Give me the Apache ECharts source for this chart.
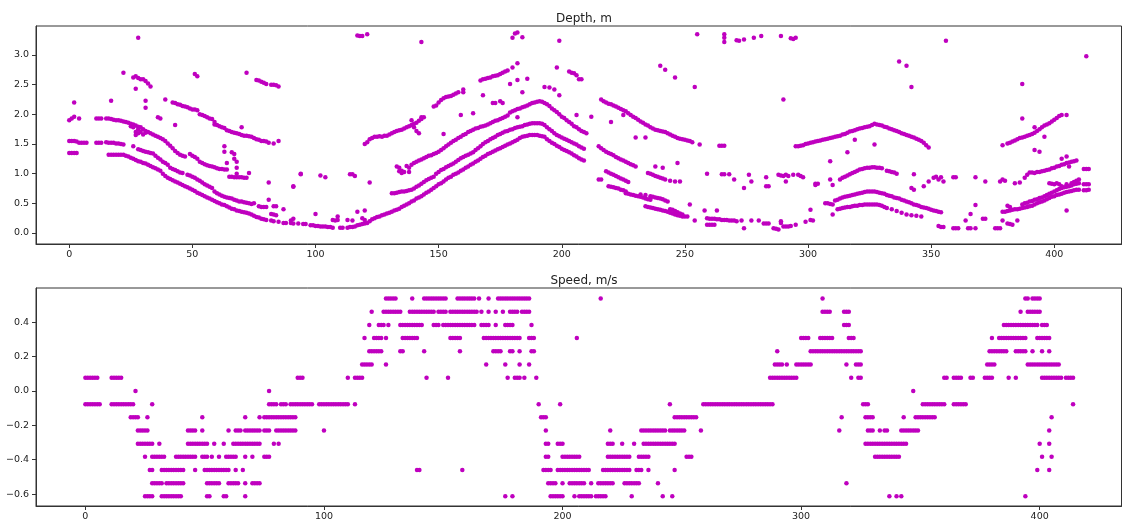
<!DOCTYPE html>
<html><head><meta charset="utf-8">
<script src="https://cdn.jsdelivr.net/npm/echarts@6/dist/echarts.min.js"></script>
<style>html,body{margin:0;padding:0;background:#fff}#c{width:1123px;height:524px}</style>
</head><body><div id="c"></div>
<script>
const depthTitle = 'Depth, m';
const speedTitle = 'Speed, m/s';
const depthXTicks = [0, 50, 100, 150, 200, 250, 300, 350, 400];
const depthYTicks = [0, 0.5, 1.0, 1.5, 2.0, 2.5, 3.0];
const speedXTicks = [0, 100, 200, 300, 400];
const speedYTicks = [-0.6, -0.4, -0.2, 0.0, 0.2, 0.4];

// Depth echoes: [index, depth]
const depthBottom = [
[0,1.35],[1,1.35],[2,1.35],[3,1.35],
[16,1.32],[17,1.32],[18,1.32],[19,1.32],[20,1.32],[21,1.32],[22,1.32],[23,1.30],[24,1.29],[25,1.27],[26,1.25],[27,1.23],[28,1.21],[29,1.20],[30,1.18],[31,1.17],[32,1.15],[33,1.13],[34,1.11],[35,1.09],[36,1.07],[37,1.05],[38,1.00],[39,0.96],[40,0.93],[41,0.91],[42,0.89],[43,0.87],[44,0.85],[45,0.83],[46,0.81],[47,0.79],[48,0.77],[49,0.75],[50,0.73],[51,0.71],[52,0.68],[53,0.66],[54,0.64],[55,0.62],[56,0.60],[57,0.58],[58,0.56],[59,0.54],[60,0.52],[61,0.50],[62,0.48],[63,0.47],[64,0.45],[65,0.43],[66,0.41],[67,0.40],[68,0.38],[69,0.37],[70,0.36],[71,0.35],[72,0.34],[73,0.33],[74,0.31],[75,0.29],[76,0.27],[77,0.26],[78,0.24],[79,0.23],[80,0.22],[82,0.21],[83,0.20],[85,0.19],[87,0.17],[88,0.17],[90,0.17],[91,0.16],[93,0.16],[95,0.15],[96,0.15],[98,0.13],[99,0.13],[100,0.12],[101,0.12],[102,0.11],[103,0.11],[104,0.11],[105,0.10],[106,0.10],[107,0.09],[110,0.09],[111,0.09],[113,0.09],[114,0.10],[115,0.10],[116,0.11],[117,0.13],[118,0.14],[119,0.15],[120,0.16],[121,0.17],
[122,0.20],[123,0.23],[124,0.25],[125,0.27],[126,0.28],[127,0.30],[128,0.31],[129,0.33],[130,0.34],[131,0.36],[132,0.38],[133,0.39],[134,0.41],[135,0.44],[136,0.46],[137,0.48],[138,0.50],[139,0.53],[140,0.55],[141,0.58],[142,0.60],[143,0.62],[144,0.65],[145,0.68],[146,0.70],[147,0.73],[148,0.76],[149,0.79],[150,0.82],[151,0.84],[152,0.87],[153,0.90],[154,0.93],[155,0.95],[156,0.98],[157,1.00],[158,1.02],[159,1.05],[160,1.07],[161,1.10],[162,1.12],[163,1.15],[164,1.17],[165,1.20],[166,1.22],[167,1.25],[168,1.28],[169,1.30],[170,1.33],[171,1.35],[172,1.37],[173,1.39],[174,1.41],[175,1.43],[176,1.45],[177,1.47],[178,1.49],[179,1.51],[180,1.53],[181,1.55],[182,1.57],[183,1.60],[184,1.62],[185,1.63],[186,1.64],[187,1.65],[188,1.65],[189,1.65],[190,1.65],[191,1.64],[192,1.63],[193,1.62],[194,1.58],[195,1.55],[196,1.52],[197,1.50],[198,1.47],[199,1.45],[200,1.42],[201,1.40],[202,1.38],[203,1.36],[204,1.34],[205,1.31],[206,1.29],[207,1.26],[208,1.24],[209,1.22]
];
const depthMiddle = [
[0,1.55],[1,1.55],[2,1.55],[3,1.54],[4,1.52],[5,1.52],[6,1.52],[7,1.52],
[11,1.52],[12,1.52],[13,1.52],[15,1.53],[16,1.52],[17,1.52],[18,1.52],[19,1.51],[20,1.51],[21,1.50],[22,1.49],
[26,1.46],[28,1.41],[29,1.40],[30,1.38],[31,1.37],[32,1.36],[33,1.35],[34,1.34],[35,1.30],[36,1.27],[37,1.24],[38,1.20],[39,1.18],[40,1.15],[41,1.10],[42,1.08],[43,1.06],[44,1.04],[45,1.02],[46,1.01],[48,0.98],[49,0.97],[50,0.95],[51,0.93],[52,0.90],[53,0.88],[54,0.85],[55,0.82],[56,0.80],[57,0.78],[58,0.76],[59,0.70],[60,0.67],[61,0.65],[62,0.63],[63,0.61],[64,0.60],[65,0.59],[66,0.58],[67,0.56],[68,0.55],[69,0.53],[70,0.53],[71,0.52],[72,0.51],[73,0.50],[74,0.49],[75,0.50],[77,0.45],[78,0.44],[79,0.44],[80,0.44],[82,0.32],[83,0.31],[84,0.30],
[131,0.67],[132,0.67],[133,0.68],[134,0.69],[135,0.70],[136,0.70],[137,0.71],[138,0.72],[139,0.73],[140,0.75],[141,0.78],[142,0.80],[143,0.83],[144,0.86],[145,0.89],[146,0.91],[147,0.93],[148,0.95],[149,1.00],[150,1.03],[151,1.06],[152,1.08],[153,1.11],[154,1.13],[155,1.15],[156,1.17],[157,1.20],[158,1.23],[159,1.26],[160,1.28],[161,1.30],[162,1.32],[163,1.34],[164,1.36],[165,1.40],[166,1.43],[167,1.46],[168,1.50],[169,1.53],[170,1.55],[171,1.58],[172,1.60],[173,1.62],[174,1.65],[175,1.67],[176,1.69],[177,1.71],[178,1.72],[179,1.74],[180,1.75],[181,1.77],[182,1.78],[183,1.79],[184,1.80],[185,1.82],[186,1.83],[187,1.84],[188,1.85],[189,1.85],[190,1.85],[191,1.85],[192,1.84],[193,1.82],[194,1.78],[195,1.75],[196,1.72],[197,1.68],[198,1.65],[199,1.63],[200,1.61],[201,1.59],[202,1.57],[203,1.55],[204,1.53],[205,1.51],[206,1.49],[207,1.46],[208,1.44],[209,1.42]
];
const depthThird = [
[0,1.90],[1,1.93],[2,1.96],[4,1.93],
[11,1.93],[12,1.93],[13,1.93],[15,1.93],[16,1.93],[17,1.92],[18,1.91],[19,1.90],[20,1.90],[21,1.89],[22,1.88],[23,1.87],[24,1.86],[25,1.84],[26,1.83],[27,1.81],[28,1.79],
[29,1.78],[30,1.75],[31,1.72],[32,1.70],[33,1.68],[34,1.66],[35,1.64],[36,1.62],[37,1.60],[38,1.58],[39,1.55],[40,1.51],[41,1.47],[42,1.43],[43,1.38],[44,1.35],[45,1.32],[46,1.30],[47,1.29],[49,1.33],[50,1.30],[51,1.28],[52,1.25],[53,1.20],[54,1.18],[55,1.16],[56,1.14],[57,1.13],[58,1.12],[59,1.11],[60,1.09],[61,1.08],[62,1.08],[63,1.07],[64,1.07],[65,0.95],[66,0.95],[67,0.94],[68,0.94],[69,0.94],[70,0.94],[71,0.93],[72,0.93],[73,1.01],
[133,1.12],[134,1.10],[135,1.05],[136,1.03],[137,1.13],[138,1.03],[139,1.15],[140,1.18],[141,1.20],[142,1.22],[143,1.24],[144,1.26],[145,1.28],[146,1.30],[147,1.31],[148,1.33],[149,1.35],[150,1.37],[151,1.40],[152,1.43],[153,1.46],[154,1.49],[155,1.52],[156,1.55],[157,1.57],[158,1.60],[159,1.62],[160,1.65],[161,1.67],[162,1.70],[163,1.72],[164,1.74],[165,1.76],[166,1.77],[167,1.79],[168,1.80],[169,1.81],[170,1.83],[171,1.85],[172,1.87],[173,1.89],[174,1.90],[175,1.92],[176,1.94],[177,1.96],[178,1.98],[179,2.03],[180,2.05],[181,2.07],[182,2.09],[183,2.10],[184,2.12],[185,2.13],[186,2.15],[187,2.17],[188,2.19],[189,2.20],[190,2.21],[191,2.22],[192,2.21],[193,2.19],[194,2.17],[195,2.14],[196,2.10],[197,2.07],[198,2.04],[199,2.00],[200,1.96],[201,1.94],[202,1.90],[203,1.87],[204,1.84],[205,1.80],[206,1.78],[207,1.75],[208,1.72],[209,1.70],[210,1.68]
];
const depthTop = [
[39,2.25],[42,2.20],[43,2.19],[44,2.17],[45,2.16],[46,2.14],[47,2.13],[48,2.12],[49,2.10],[50,2.08],[51,2.08],[52,2.07],[53,2.00],[54,1.99],[55,1.97],[56,1.95],[57,1.93],[58,1.92],[59,1.87],[59,1.83],[60,1.82],[61,1.80],[62,1.78],[63,1.77],[64,1.73],[65,1.72],[66,1.70],[67,1.69],[68,1.68],[69,1.67],[70,1.65],[71,1.64],[72,1.64],[73,1.63],[74,1.62],[75,1.60],[76,1.58],[77,1.57],[78,1.55],[79,1.55],[80,1.54],[81,1.52],[83,1.51],[85,1.55],
[120,1.50],[121,1.53],[122,1.58],[123,1.60],[124,1.62],[125,1.62],[126,1.63],[127,1.62],[128,1.64],[129,1.64],[130,1.66],[131,1.68],[132,1.70],[133,1.72],[134,1.73],[135,1.74],[136,1.76],[137,1.78],[138,1.80],[139,1.82],[140,1.84],[141,1.86],[142,1.89],[143,1.92],[144,1.95],[148,2.13],[149,2.15],[150,2.20],[151,2.24],[152,2.27],[153,2.29],[154,2.30],[155,2.31],[156,2.33],[157,2.35],[158,2.37],[160,2.42],[167,2.57],[168,2.59],[169,2.60],[170,2.61],[171,2.62],[172,2.64],[173,2.65],[174,2.66],[175,2.68],[176,2.70],[177,2.72],[178,2.74],[180,2.79],[182,2.86],
[203,2.72],[204,2.70],[205,2.69],[206,2.66],[207,2.59],[208,2.59],
[216,2.25],[217,2.22],[218,2.20],[219,2.18],[220,2.17],[221,2.15],[222,2.13],[223,2.11],[224,2.09],[225,2.07],[226,2.05],[227,2.02],[228,1.99],[229,1.96],[230,1.94],[231,1.91],[232,1.88],[233,1.86],[234,1.83],[235,1.81],[236,1.78],[237,1.76],[238,1.74],[239,1.73],[240,1.72],[241,1.71],[242,1.70],[243,1.68],[244,1.66],[245,1.64],[246,1.62],[247,1.60],[248,1.59],[249,1.58],[250,1.57],[251,1.56],[252,1.55],[253,1.53],[256,1.49],
[295,1.46],[296,1.46],[297,1.47],[298,1.48],[299,1.50],[300,1.51],[301,1.52],[302,1.53],[303,1.54],[304,1.55],[305,1.56],[306,1.57],[307,1.58],[308,1.59],[309,1.60],[310,1.61],[311,1.62],[312,1.63],[313,1.64],[314,1.66],[315,1.67],[316,1.69],[317,1.71],[318,1.72],[319,1.73],[320,1.75],[321,1.76],[322,1.77],[323,1.78],[324,1.79],[325,1.80],[326,1.82],[327,1.84],[328,1.83],[329,1.82],[330,1.81],[331,1.79],[332,1.78],[333,1.76],[334,1.75],[335,1.73],[336,1.72],[337,1.70],[338,1.68],[339,1.67],[340,1.65],[341,1.64],[342,1.62],[343,1.61],[344,1.59],[345,1.57],[346,1.55],[347,1.52],[348,1.48],[349,1.44],
[379,1.48],[381,1.51],[382,1.52],[383,1.54],[384,1.56],[385,1.58],[386,1.60],[387,1.61],[388,1.62],[389,1.64],[390,1.65],[391,1.67],[392,1.69],[393,1.72],[394,1.75],[395,1.78],[396,1.81],[397,1.83],[398,1.85],[399,1.88],[400,1.91],[401,1.94],[402,1.97],[403,1.99],[405,1.99]
];
const depthLower = [
[215,1.46],[216,1.43],[217,1.40],[218,1.37],[219,1.35],[220,1.33],[221,1.31],[222,1.28],[223,1.26],[224,1.24],[225,1.22],[226,1.20],[227,1.18],[228,1.16],[229,1.14],[230,1.12],
[235,1.01],[236,1.00],[237,0.98],[238,0.96],[239,0.95],[240,0.93],[241,0.92],[242,0.90],[244,0.88],[246,0.87],[248,0.87],
[215,0.90],[216,0.90],[218,1.04],[219,1.02],[220,1.00],[221,0.98],[222,0.96],[223,0.94],[224,0.92],[225,0.90],[226,0.88],[227,0.86],
[219,0.79],[220,0.78],[221,0.77],[222,0.76],[223,0.75],[224,0.73],[225,0.72],[226,0.70],
[226,0.67],[227,0.66],[228,0.65],[229,0.64],[230,0.63],[231,0.62],[232,0.61],[233,0.60],[234,0.58],[235,0.57],[236,0.56],
[232,0.65],[234,0.64],[236,0.62],[237,0.61],[238,0.60],[239,0.59],[240,0.58],[241,0.57],[242,0.55],[243,0.53],
[234,0.45],[235,0.44],[236,0.43],[237,0.42],[238,0.41],[239,0.40],[240,0.39],[241,0.38],[242,0.37],[243,0.36],[244,0.34],[245,0.33],[246,0.31],[247,0.30],[248,0.29],[249,0.28],[250,0.28],[251,0.28],
[244,0.40],[245,0.39],[246,0.37],[247,0.35],[248,0.33],[249,0.31],
[313,0.90],[314,0.93],[315,0.95],[316,0.97],[317,0.99],[318,1.01],[319,1.03],[320,1.05],[321,1.07],[322,1.08],[323,1.09],[324,1.10],[325,1.10],[326,1.11],[327,1.11],[328,1.10],[329,1.10],[330,1.09],[332,1.05],[333,1.04],[334,1.03],[335,1.02],[336,1.00],[343,0.99],
[307,0.50],[308,0.50],[309,0.49],[310,0.48],[311,0.55],[312,0.56],[313,0.58],[314,0.60],[315,0.61],[316,0.62],[317,0.63],[318,0.64],[319,0.65],[320,0.66],[321,0.67],[322,0.68],[323,0.69],[324,0.70],[325,0.70],[326,0.70],[327,0.70],[328,0.69],[329,0.68],[330,0.67],[331,0.66],[332,0.64],[333,0.63],[334,0.62],[335,0.60],[336,0.59],[337,0.58],[338,0.56],[339,0.55],[340,0.53],[341,0.52],[342,0.50],[343,0.48],[344,0.47],[345,0.46],[346,0.44],[347,0.43],[348,0.42],[349,0.41],[350,0.39],[351,0.38],[352,0.37],[353,0.36],[354,0.35],
[310,0.31],[312,0.40],[313,0.41],[314,0.42],[315,0.43],[316,0.44],[317,0.44],[318,0.45],[319,0.46],[320,0.46],[321,0.47],[322,0.47],[323,0.48],[324,0.48],[325,0.48],[326,0.48],[327,0.48],[328,0.48],[329,0.47],[330,0.46],[331,0.44],[332,0.42],[334,0.40],[336,0.37],[338,0.34],[340,0.31],[342,0.30],[344,0.29],[346,0.28],
[379,0.36],[380,0.36],[381,0.37],[382,0.38],[383,0.39],[384,0.40],[385,0.40],[386,0.41],[387,0.42],[388,0.43],[389,0.44],[390,0.45],[391,0.46],[392,0.48],[393,0.50],[394,0.52],[395,0.53],[396,0.55],[397,0.57],[398,0.59],[399,0.61],[400,0.62],[401,0.64],[402,0.65],[403,0.66],[404,0.68],[405,0.69],[406,0.70],[407,0.71],[408,0.72],[409,0.73],[410,0.73],[412,0.72],[413,0.72],[414,0.73],
[381,0.46],[382,0.44],[387,0.48],[388,0.50],[389,0.51],[390,0.53],[391,0.54],[392,0.56],[393,0.57],[394,0.59],[395,0.60],[396,0.62],[397,0.64],[398,0.66],[399,0.68],[400,0.70],[401,0.72],[402,0.74],[403,0.76],[404,0.77],[405,0.78],[406,0.79],[407,0.80],[408,0.82],[409,0.83],[410,0.84],
[398,0.84],[399,0.83],[400,0.82],[401,0.84],[402,0.82],[403,0.79],[405,0.82],[407,0.84],[408,0.86],[409,0.88],[410,0.90],[412,0.82],[413,0.82],[414,0.82],
[390,1.02],[391,1.02],[392,1.01],[393,1.03],[394,1.03],[395,1.04],[396,1.05],[397,1.06],[398,1.07],[399,1.09],[400,1.10],[401,1.12],[402,1.13],[403,1.15],[404,1.16],[405,1.18],[406,1.19],[407,1.20],[408,1.21],[409,1.22],[403,1.25],[405,1.29],[406,1.12],[412,1.08],[413,1.08],[414,1.08]
];
const depthScatter = [
[2,2.20],[17,2.23],[22,2.70],[28,3.29],[26,2.62],[27,2.64],[28,2.61],[29,2.59],[30,2.59],[27,2.43],[31,2.56],[32,2.52],[33,2.47],[31,2.23],[31,2.11],[51,2.68],[52,2.64],
[25,1.80],[26,1.78],[27,1.70],[27,1.65],[28,1.68],[28,1.75],[29,1.70],[30,1.66],[31,1.69],[36,1.95],[37,1.93],[43,1.82],[70,1.78],
[63,1.46],[63,1.37],[64,1.18],[66,1.36],[67,1.33],[67,1.25],[68,1.20],[68,1.10],[68,1.00],
[72,2.70],[76,2.58],[77,2.57],[78,2.55],[79,2.53],[80,2.51],[82,2.50],[83,2.50],[84,2.49],[85,2.47],
[81,0.85],[81,0.56],[83,0.45],[84,0.45],[87,0.40],[91,0.78],[94,1.00],[91,0.24],[90,0.21],
[91,0.79],[94,0.99],[102,0.97],[104,0.94],[114,0.99],[115,0.99],[116,0.96],[122,0.85],[100,0.32],[109,0.28],[107,0.22],[108,0.21],[109,0.22],[113,0.22],[115,0.21],[117,0.36],[120,0.38],[119,0.25],[120,0.22],
[117,3.33],[118,3.32],[119,3.32],[121,3.35],[143,3.22],[180,3.29],[181,3.36],[182,3.38],[184,3.30],[199,3.24],
[152,1.67],[160,2.37],[159,1.99],[164,2.02],[168,2.32],[172,2.19],[173,2.19],[175,2.22],[176,2.19],[179,2.51],[182,2.58],[184,2.37],[186,2.60],[193,2.46],[195,2.45],[197,2.42],[198,2.79],[199,2.32],[182,1.95],[140,1.78],[141,1.72],[142,1.68],[139,1.90],[143,1.95],[134,1.04],[135,1.01],[138,1.10],
[206,1.99],[212,1.96],[220,1.87],[225,1.99],[230,1.61],[234,1.61],[238,1.12],[241,1.10],[247,1.18],
[240,2.82],[242,2.75],[246,2.62],[254,2.46],[255,3.35],[266,3.35],[266,3.29],[266,3.22],[271,3.25],[272,3.24],[274,3.26],[278,3.29],[281,3.32],[289,3.32],[293,3.28],[294,3.27],[295,3.29],[290,2.25],
[252,0.48],[254,0.21],[258,0.38],[259,0.25],[260,0.24],[261,0.24],[262,0.24],[263,0.23],[264,0.23],[265,0.22],[259,0.14],[260,0.14],[261,0.14],[262,0.14],[263,0.38],[266,0.22],[267,0.22],[268,0.21],[269,0.21],[270,0.21],[271,0.20],[274,0.08],[273,0.21],[277,0.21],[280,0.21],[282,0.16],[283,0.16],[284,0.16],[286,0.08],[287,0.07],[288,0.06],[289,0.20],[289,0.17],[290,0.11],[291,0.11],[292,0.11],[293,0.12],[295,0.14],[299,0.19],[301,0.39],[301,0.22],[302,0.21],
[259,1.00],[265,0.99],[266,0.99],[268,0.99],[270,0.90],[274,0.76],[276,0.98],[277,0.87],[283,0.94],[283,0.79],[284,0.79],[288,0.98],[289,0.97],[290,0.96],[291,0.98],[292,0.96],[291,0.87],[294,0.98],[296,0.98],[297,0.96],[298,0.94],[303,0.83],[304,0.83],
[264,1.47],[265,1.47],[266,1.47],
[309,1.21],[316,1.36],[319,1.57],[327,1.49],[303,0.81],[309,0.90],[310,0.81],
[342,0.76],[343,0.73],[347,0.79],[349,0.87],[351,0.93],[352,0.95],[353,0.90],[354,0.94],[355,0.87],[359,0.94],[360,0.94],[368,0.94],[372,0.87],
[353,0.12],[354,0.10],[355,0.10],[359,0.08],[360,0.08],[361,0.08],[364,0.21],[365,0.08],[366,0.08],[366,0.32],[368,0.47],[368,0.08],[371,0.24],[372,0.24],[376,0.08],[377,0.08],[378,0.08],[379,0.21],[381,0.16],[382,0.15],[383,0.14],[385,0.21],
[356,3.24],[337,2.89],[340,2.82],[342,2.46],[387,2.51],[413,2.98],
[387,1.93],[392,1.78],[396,1.62],[392,1.40],[394,1.37],[388,0.93],[389,0.98],[386,0.85],[384,0.84],[378,0.87],[379,0.90],[380,0.88],[405,0.38]
];

// Speed: quantised levels (m/s) and the indices where each level appears
const speedLevels = [0.537, 0.46, 0.383, 0.307, 0.23, 0.153, 0.077, 0.0, -0.077, -0.153, -0.23, -0.307, -0.383, -0.46, -0.537, -0.613];
const speedAt537 = [126,127,128,129,130,137,142,143,144,145,146,147,148,149,150,151,156,157,158,159,160,161,162,163,165,169,173,174,175,176,177,178,179,180,181,182,183,184,185,186,216,309,394,395,397,398,399,400];
const speedAt460 = [120,125,126,127,128,129,130,131,132,136,137,138,139,140,141,142,143,144,145,146,148,149,150,151,153,154,155,156,157,158,159,160,161,162,163,164,166,169,172,175,178,179,180,181,183,184,185,186,309,310,311,312,318,319,320,392,395,396,397,398,399,400];
const speedAt383 = [119,123,124,125,127,132,133,134,135,136,137,138,139,140,141,146,147,148,150,151,152,153,154,155,156,157,158,159,160,161,162,163,166,167,168,169,172,176,177,178,179,187,318,319,320,385,386,387,388,389,390,391,392,393,394,395,396,397,398,399,401,402,403];
const speedAt307 = [117,121,122,123,124,126,133,134,135,136,137,138,139,153,154,155,156,157,167,168,169,170,171,172,173,174,175,176,177,178,179,180,181,182,186,187,188,206,300,301,302,303,308,309,310,311,312,313,320,321,322,380,383,384,385,386,387,388,389,390,391,392,393,394,399,400,401,402,403,404];
const speedAt230 = [119,120,121,122,123,124,132,133,142,157,171,172,173,174,178,179,182,187,188,290,304,305,306,307,308,309,310,311,312,313,314,315,316,317,318,319,320,321,322,323,324,325,379,380,381,382,383,384,385,386,390,391,392,393,394,397,401,404];
const speedAt153 = [116,117,118,119,120,126,168,176,182,186,289,290,291,292,294,298,299,300,301,302,303,304,319,323,324,325,378,379,380,381,395,396,397,398,399,400,401,402,403,404,405,406,407,408];
const speedAt077 = [0,1,2,3,4,5,11,12,13,14,15,89,90,91,110,113,114,115,116,143,152,177,180,181,182,184,189,287,288,289,290,291,292,293,294,295,296,297,298,321,324,325,360,361,364,365,366,367,371,372,377,378,379,380,387,390,401,402,403,404,405,406,407,408,409,411,412,413,414];
const speedAt000 = [21,77,347];
const speedAtM077 = [0,1,2,3,4,5,6,11,12,13,14,15,16,17,18,19,20,28,77,78,79,80,82,83,84,86,87,88,89,90,91,92,93,94,95,98,99,100,101,102,103,104,105,106,107,108,109,110,113,190,199,245,259,260,261,262,263,264,265,266,267,268,269,270,271,272,273,274,275,276,277,278,279,280,281,282,283,284,285,286,287,288,326,327,328,351,352,353,354,355,356,357,358,359,360,364,365,366,367,368,369,414];
const speedAtM153 = [19,20,21,22,26,49,67,73,75,76,77,78,79,80,81,82,83,84,85,86,87,88,191,192,193,247,248,249,250,251,252,253,254,255,256,317,327,328,329,330,343,348,349,350,351,352,353,354,355,356,405];
const speedAtM230 = [22,23,24,25,26,43,44,45,46,49,60,63,64,65,67,68,69,70,71,72,73,75,76,77,80,81,82,83,84,85,86,87,88,100,193,220,233,234,235,236,237,238,239,240,241,242,243,245,246,247,248,249,250,251,258,316,328,329,330,333,335,336,342,343,344,345,346,347,348,349,404];
const speedAtM307 = [22,23,24,25,26,27,28,31,43,44,45,46,47,48,49,50,51,54,58,62,63,64,65,66,67,68,69,70,71,72,73,79,81,193,194,198,199,200,219,220,221,225,230,234,235,236,237,238,239,240,241,242,243,244,245,246,247,327,328,329,330,331,332,333,334,335,336,337,338,339,340,341,342,343,344,400,404];
const speedAtM383 = [25,28,29,30,31,32,33,38,39,40,41,42,43,44,45,46,49,50,51,53,56,59,60,61,62,63,67,70,75,76,77,193,194,200,201,202,203,204,205,206,207,219,220,221,222,223,224,225,226,227,228,232,233,234,235,236,252,253,254,331,332,333,334,335,336,337,338,339,340,341,401,405];
const speedAtM460 = [27,28,32,33,34,35,36,37,38,39,40,41,46,50,51,52,53,54,55,56,57,58,59,60,63,66,139,140,158,192,193,194,195,198,199,200,201,202,203,204,205,206,207,208,209,210,211,217,218,219,220,221,222,223,224,225,226,227,228,231,232,233,236,247,399,404];
const speedAtM537 = [28,29,30,31,32,34,35,36,37,38,39,40,41,51,52,53,54,55,56,60,61,62,63,64,67,70,71,72,73,194,195,196,197,200,203,204,205,206,207,208,209,212,215,216,217,218,219,220,221,226,227,228,229,230,231,232,240,319];
const speedAtM613 = [25,26,27,28,32,33,34,35,36,37,38,39,40,51,52,58,59,67,176,179,195,196,197,198,199,200,205,207,208,209,210,211,212,214,215,216,217,218,229,242,246,337,340,342,394];
const speedIndexLists = [speedAt537, speedAt460, speedAt383, speedAt307, speedAt230, speedAt153, speedAt077, speedAt000, speedAtM077, speedAtM153, speedAtM230, speedAtM307, speedAtM383, speedAtM460, speedAtM537, speedAtM613];

const speedData = [];
speedLevels.forEach((v, i) => speedIndexLists[i].forEach(x => speedData.push([x, v])));
const depthData = [].concat(depthBottom, depthMiddle, depthThird, depthTop, depthLower, depthScatter);

const COLOR = '#bf00bf';
const FONT = 'DejaVu Sans';
const fmt = v => (Math.abs(v) < 1e-9 ? '0.0' : v.toFixed(1).replace('-', '\u2212'));

function xAxisCfg(idx, min, max, ticks) {
  return {
    type: 'value', gridIndex: idx, min: min, max: max,
    axisLine: { show: true, onZero: false, lineStyle: { color: '#333', width: 1 } },
    axisTick: { show: true, length: 4, customValues: ticks, lineStyle: { color: '#333' } },
    axisLabel: { customValues: ticks, margin: 6, color: '#222', fontFamily: FONT, fontSize: 9.5, formatter: v => String(Math.round(v)) },
    splitLine: { show: false }
  };
}
function yAxisCfg(idx, min, max, ticks) {
  return {
    type: 'value', gridIndex: idx, min: min, max: max,
    axisLine: { show: true, onZero: false, lineStyle: { color: '#333', width: 1 } },
    axisTick: { show: true, length: 4, customValues: ticks, lineStyle: { color: '#333' } },
    axisLabel: { customValues: ticks, margin: 7, color: '#222', fontFamily: FONT, fontSize: 9.5, formatter: fmt },
    splitLine: { show: false }
  };
}

const chart = echarts.init(document.getElementById('c'), null, { renderer: 'canvas' });
chart.setOption({
  animation: false,
  backgroundColor: '#fff',
  title: [
    { text: depthTitle, left: 579, top: 8, textAlign: 'center', textStyle: { fontFamily: FONT, fontSize: 12, fontWeight: 'normal', color: '#222' } },
    { text: speedTitle, left: 579, top: 270, textAlign: 'center', textStyle: { fontFamily: FONT, fontSize: 12, fontWeight: 'normal', color: '#222' } }
  ],
  grid: [
    { left: 36, right: 1.5, top: 26, height: 218, show: true, borderColor: '#333', borderWidth: 1, backgroundColor: 'transparent' },
    { left: 36, right: 1.5, top: 288, height: 218, show: true, borderColor: '#333', borderWidth: 1, backgroundColor: 'transparent' }
  ],
  xAxis: [
    xAxisCfg(0, -13.5, 427.3, depthXTicks),
    xAxisCfg(1, -20.7, 434.3, speedXTicks)
  ],
  yAxis: [
    yAxisCfg(0, -0.185, 3.488, depthYTicks),
    yAxisCfg(1, -0.669, 0.598, speedYTicks)
  ],
  series: [
    { type: 'scatter', xAxisIndex: 0, yAxisIndex: 0, data: depthData, symbol: 'circle', symbolSize: 4.5, itemStyle: { color: COLOR, opacity: 1 }, large: false },
    { type: 'scatter', xAxisIndex: 1, yAxisIndex: 1, data: speedData, symbol: 'circle', symbolSize: 4.5, itemStyle: { color: COLOR, opacity: 1 }, large: false }
  ]
});
</script>
</body></html>
